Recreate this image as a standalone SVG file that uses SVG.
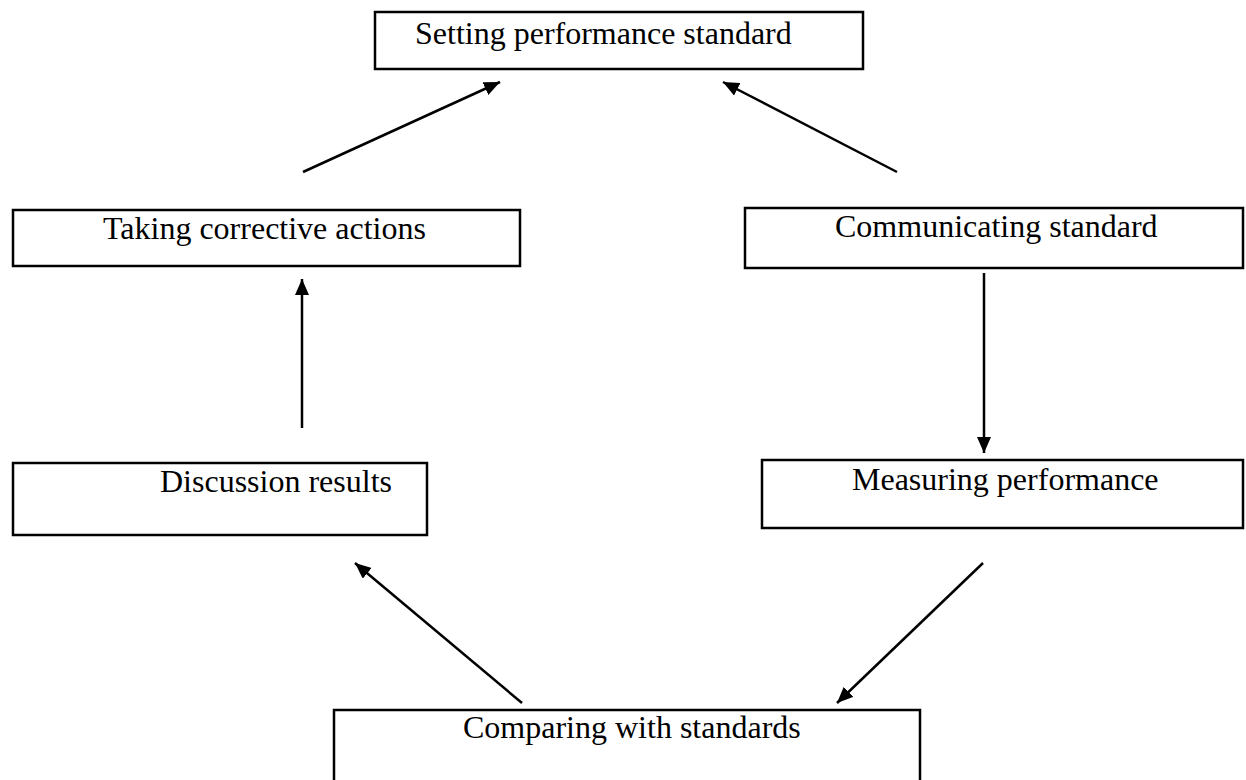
<svg xmlns="http://www.w3.org/2000/svg" width="1246" height="780" viewBox="0 0 1246 780">
<defs>
<style>
.box{fill:#fff;stroke:#000;stroke-width:2.5}
.lbl{font-family:"Liberation Serif","Times New Roman",serif;font-size:32px;fill:#000}
.con{stroke:#000;stroke-width:2.5;fill:none;marker-end:url(#ah)}
</style>
<marker id="ah" viewBox="0 0 16 14" refX="16" refY="7" markerWidth="16" markerHeight="14" markerUnits="userSpaceOnUse" orient="auto">
<path d="M0,0 L16,7 L0,14 z" fill="#000"/>
</marker>
</defs>
<rect width="1246" height="780" fill="#fff"/>
<g id="connectors">
<line class="con" x1="303" y1="172" x2="500" y2="82"/>
<line class="con" x1="897" y1="172" x2="723" y2="82"/>
<line class="con" x1="302" y1="428" x2="302" y2="279"/>
<line class="con" x1="984" y1="273" x2="984" y2="453"/>
<line class="con" x1="983" y1="563" x2="837" y2="703"/>
<line class="con" x1="522" y1="703" x2="355" y2="563"/>
</g>
<g id="n1"><rect class="box" x="375" y="12" width="488" height="57"/><text class="lbl" x="415" y="44">Setting performance standard</text></g>
<g id="n2"><rect class="box" x="13" y="210" width="507" height="56"/><text class="lbl" x="103" y="239">Taking corrective actions</text></g>
<g id="n3"><rect class="box" x="745" y="208" width="498" height="60"/><text class="lbl" x="835" y="237">Communicating standard</text></g>
<g id="n4"><rect class="box" x="13" y="463" width="414" height="72"/><text class="lbl" x="160" y="492">Discussion results</text></g>
<g id="n5"><rect class="box" x="762" y="460" width="481" height="68"/><text class="lbl" x="852" y="490">Measuring performance</text></g>
<g id="n6"><rect class="box" x="334" y="710" width="586" height="80"/><text class="lbl" x="463" y="738">Comparing with standards</text></g>
</svg>
